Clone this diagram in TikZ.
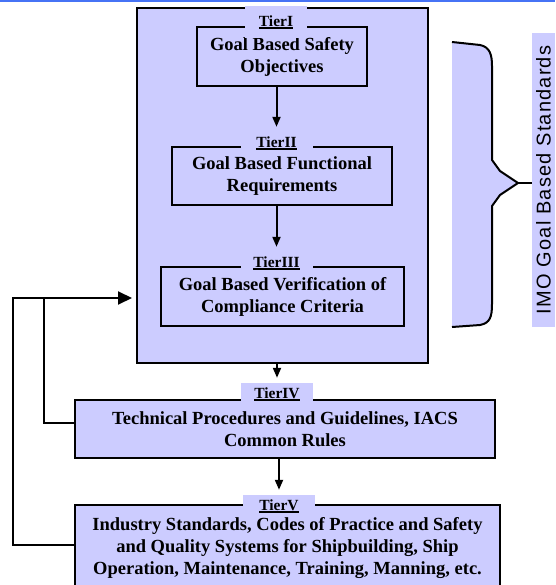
\documentclass[tikz,border=0pt]{standalone}
\usepackage{fontspec}
\setmainfont{Liberation Serif}
\newfontfamily\arialfont[LetterSpace=6]{Liberation Sans}
\usetikzlibrary{arrows.meta}
\definecolor{tierfill}{RGB}{204,204,255}
\definecolor{topblue}{RGB}{70,115,245}
\newcommand{\tiername}[1]{\setbox0\hbox{#1}\rlap{\rule[-2.5pt]{\wd0}{1.2pt}}\box0}

\begin{document}
\begin{tikzpicture}[x=1pt,y=1pt,
  tierbox/.style={draw, line width=2pt, fill=tierfill, align=center, inner sep=0pt,
    font=\bfseries\fontsize{18.5}{22}\selectfont},
  tierlabel/.style={fill=tierfill, inner sep=0pt, minimum width=72pt, minimum height=22pt,
    font=\bfseries\fontsize{15.5}{17}\selectfont},
  arr/.style={line width=2pt, -{Triangle[length=10pt,width=8pt]}, shorten >=5pt},
  fbline/.style={line width=2pt}]
\useasboundingbox (0,0) rectangle (555,-585);
% blue rule along the top
\fill[topblue] (0,0) rectangle (555,-2.5);

% frame round tiers I-III
\node[draw, line width=2pt, fill=tierfill, minimum width=291pt, minimum height=355pt] (big) at (282.5,-185.5) {};

% the five tiers
\node[tierbox, minimum width=170pt, minimum height=59pt] (tier1) at (282,-56.5) {Goal Based Safety\\Objectives};
\node[tierbox, minimum width=220pt, minimum height=58pt] (tier2) at (282,-176) {Goal Based Functional\\Requirements};
\node[tierbox, minimum width=243pt, minimum height=59pt] (tier3) at (282.5,-296.5) {Goal Based Verification of\\Compliance Criteria};
\node[tierbox, minimum width=420pt, minimum height=58pt] (tier4) at (285,-429) {Technical Procedures and Guidelines, IACS\\Common Rules};
\node[tierbox, minimum width=425pt, minimum height=87pt] (tier5) at (287.5,-548.5) {Industry Standards, Codes of Practice and Safety\\and Quality Systems for Shipbuilding, Ship\\Operation, Maintenance, Training, Manning, etc.};

% tier labels on the top edges
\node[tierlabel, minimum width=62pt, minimum height=32pt] (lab1) at (276,-22) {\tiername{TierI}};
\node[tierlabel] (lab2) at (276.5,-143) {\tiername{TierII}};
\node[tierlabel] (lab3) at (276.5,-263) {\tiername{TierIII}};
\node[tierlabel] (lab4) at (277,-394) {\tiername{TierIV}};
\node[tierlabel] (lab5) at (279,-506) {\tiername{TierV}};

% downward arrows
\draw[arr] (lab2.north |- tier1.south) -- (lab2.north);
\draw[arr] (lab3.north |- tier2.south) -- (lab3.north);
\draw[arr] (lab4.north |- big.south) -- (lab4.north);
\draw[arr] (lab5.north |- tier4.south) -- (lab5.north);

% feedback lines
\coordinate (loopout) at (13,-298);
\coordinate (loopin) at (44,-298);
\draw[fbline, -{Triangle[length=14pt,width=13pt]}, shorten >=4pt] ([yshift=4pt]tier5.west) -| (loopout) -- (loopout -| big.west);
\draw[fbline] ([yshift=6pt]tier4.west) -| (loopin);

% side label and brace
\node[fill=tierfill, rotate=90, minimum width=294pt, minimum height=23pt, inner sep=0pt,
  font=\arialfont\fontsize{20}{20}\selectfont] (imo) at (543.5,-180) {IMO Goal Based Standards};
\coordinate (bracetip) at (518,-183);
\fill[tierfill] (452,-42) -- (480,-45) .. controls (490,-47) and (492,-55) .. (492,-66) -- (492,-160) -- (500,-171) -- (bracetip)
  -- (500,-195) -- (492,-206) -- (492,-304) .. controls (492,-317) and (490,-323) .. (480,-325) -- (452,-327) -- cycle;
\draw[line width=2pt] (452,-42) -- (480,-45) .. controls (490,-47) and (492,-55) .. (492,-66) -- (492,-160) -- (500,-171) -- (bracetip)
  -- (500,-195) -- (492,-206) -- (492,-304) .. controls (492,-317) and (490,-323) .. (480,-325) -- (452,-327);
\draw[line width=2pt] (bracetip) -- (bracetip -| imo.north);
\end{tikzpicture}
\end{document}
